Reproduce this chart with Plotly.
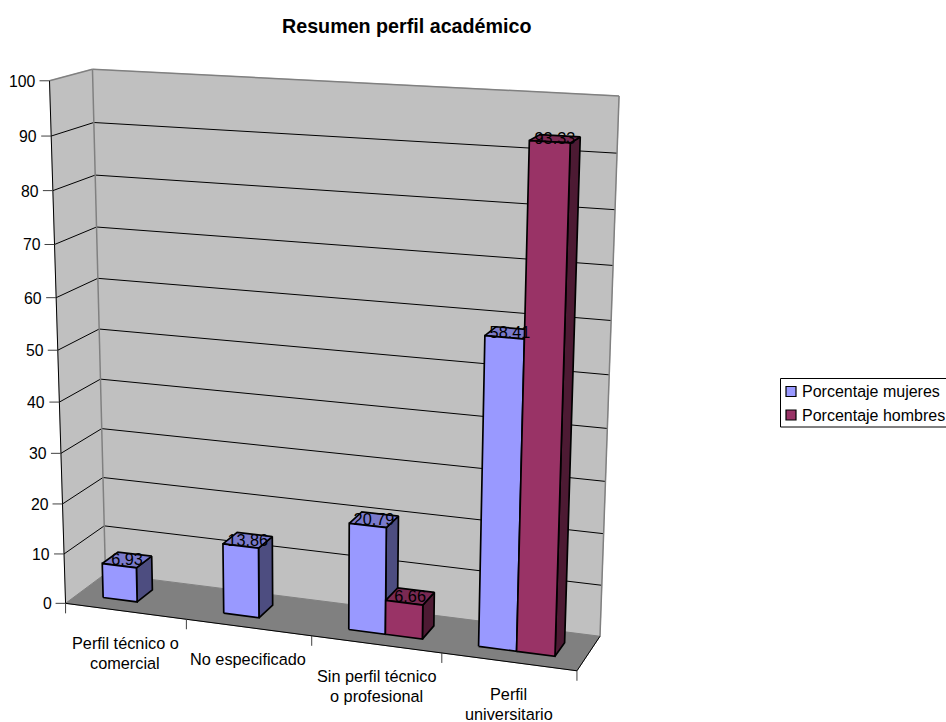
import numpy as np
import plotly.graph_objects as go

# Chart data
categories = [["Perfil técnico o", "comercial"], ["No especificado"],
              ["Sin perfil técnico", "o profesional"], ["Perfil", "universitario"]]
women = [6.93, 13.86, 20.79, 58.41]
men = [None, None, 6.66, 93.33]
series_names = ["Porcentaje mujeres", "Porcentaje hombres"]
value_ticks = list(range(0, 101, 10))

# Face colours per series: front, side, top
women_faces = ("#9999FF", "#4D4D80", "#7A7ACC")
men_faces = ("#993366", "#4D1A33", "#7A2952")
WALL = "#C0C0C0"
FLOOR = "#808080"
EDGE = "#808080"
FONT = "Liberation Sans, Arial, sans-serif"
TEXT_SIZE = 16.3
LINE_STEP = 20
W, H = 946, 722

# Bar layout inside the box: gap width 150 % and gap depth 150 %
BAR = 1 / 3.5
GAP = 0.75 * BAR
Z0, Z1 = 0.30, 0.70

# Perspective camera fitted to the corners of the plot box (category, value, depth -> px)
camera_fit = [
    ((0, 0, 0), (66, 602)), ((0, 100, 0), (49, 81)),
    ((0, 0, 1), (105, 575)), ((0, 100, 1), (93, 69)),
    ((4, 100, 1), (619, 96)), ((4, 0, 1), (600, 635)),
    ((4, 0, 0), (577, 672)),
]
A, b = [], []
for (x, y, z), (u, v) in camera_fit:
    A.append([x, y, z, 1, 0, 0, 0, 0, -u * x, -u * y, -u * z])
    A.append([0, 0, 0, 0, x, y, z, 1, -v * x, -v * y, -v * z])
    b += [u, v]
cam = np.append(np.linalg.lstsq(np.array(A, float), np.array(b, float), rcond=None)[0], 1).reshape(3, 4)


def project(x, y, z):
    p = cam @ np.array([x, y, z, 1.0])
    return p[0] / p[2], p[1] / p[2]


fig = go.Figure()


def polygon(corners, fill, line=None, width=1.0):
    pts = [project(*c) for c in corners]
    pts.append(pts[0])
    fig.add_trace(go.Scatter(
        x=[p[0] for p in pts], y=[p[1] for p in pts], mode="lines", fill="toself",
        fillcolor=fill, line=dict(color=line or fill, width=width),
        hoverinfo="skip", showlegend=False))


def segment(a, b, color="#000000", width=1.0, offset=(0, 0)):
    pa, pb = project(*a), project(*b)
    fig.add_trace(go.Scatter(
        x=[pa[0], pb[0] + offset[0]], y=[pa[1], pb[1] + offset[1]], mode="lines",
        line=dict(color=color, width=width), hoverinfo="skip", showlegend=False))


# Walls and floor
polygon([(0, 0, 0), (0, 100, 0), (0, 100, 1), (0, 0, 1)], WALL)
polygon([(0, 0, 1), (0, 100, 1), (4, 100, 1), (4, 0, 1)], WALL)
polygon([(0, 0, 0), (0, 0, 1), (4, 0, 1), (4, 0, 0)], FLOOR)

# Gridlines on both walls
for v in value_ticks[1:-1]:
    segment((0, v, 0), (0, v, 1))
    segment((0, v, 1), (4, v, 1))

# Wall outlines
segment((0, 100, 0), (0, 100, 1), EDGE, 1.5)
segment((0, 100, 1), (4, 100, 1), EDGE, 1.5)
segment((0, 0, 1), (0, 100, 1), EDGE, 1.5)
segment((4, 0, 1), (4, 100, 1), EDGE, 1.5)

# Axis lines and tick marks
segment((0, 0, 0), (0, 100, 0))
segment((0, 0, 0), (4, 0, 0))
segment((4, 0, 0), (4, 0, 1))
for i in range(5):
    segment((i, 0, 0), (i, 0, 0), "#404040", 1.0, offset=(0, 10))
for v in value_ticks:
    segment((0, v, 0), (0, v, 0), "#404040", 1.0, offset=(-10, 0))


def bar(x0, x1, value, faces):
    front, side, top = faces
    polygon([(x1, 0, Z0), (x1, 0, Z1), (x1, value, Z1), (x1, value, Z0)], side, "#000000", 1.7)
    polygon([(x0, value, Z0), (x1, value, Z0), (x1, value, Z1), (x0, value, Z1)], top, "#000000", 1.7)
    polygon([(x0, 0, Z0), (x1, 0, Z0), (x1, value, Z0), (x0, value, Z0)], front, "#000000", 1.7)


# Bars, left to right so nearer faces cover farther ones
label_pts = []
for i in range(len(categories)):
    for j, (vals, faces) in enumerate(((women, women_faces), (men, men_faces))):
        if vals[i] is None:
            continue
        x0 = i + GAP + j * BAR
        bar(x0, x0 + BAR, vals[i], faces)
        label_pts.append((project(x0 + BAR / 2, vals[i], (Z0 + Z1) / 2), f"{vals[i]:g}"))

# Data labels centred on the top face of each bar
fig.add_trace(go.Scatter(
    x=[p[0][0] for p in label_pts], y=[p[0][1] + 1.5 for p in label_pts], text=[p[1] for p in label_pts],
    mode="text", textposition="middle center", textfont=dict(family=FONT, size=TEXT_SIZE, color="#000000"),
    hoverinfo="skip", showlegend=False))

# Value axis labels
tick_px = [project(0, v, 0) for v in value_ticks]
annotations = [dict(x=p[0] - 12, y=p[1] + 0.5, text=str(v), xanchor="right", yanchor="middle",
                    showarrow=False, xref="x", yref="y", font=dict(family=FONT, size=15.8, color="#000000"))
               for p, v in zip(tick_px, value_ticks)]

# Category labels hang below the front edge, one annotation per line
for i, lines in enumerate(categories):
    px = project(i + 0.5, 0, 0)
    for k, line in enumerate(lines):
        annotations.append(dict(x=px[0], y=px[1] + 32 + k * LINE_STEP, text=line,
                                xanchor="center", yanchor="middle",
                                showarrow=False, xref="x", yref="y",
                                font=dict(family=FONT, size=TEXT_SIZE, color="#000000")))

# Title
annotations.append(dict(x=406, y=25.5, text="<b>Resumen perfil académico</b>", xanchor="center", yanchor="middle",
                        showarrow=False, xref="x", yref="y", font=dict(family=FONT, size=19.7, color="#000000")))

# Legend
legend_y = (391.5, 415)
fig.add_shape(type="rect", x0=780.5, x1=960, y0=378.5, y1=427, xref="x", yref="y",
              line=dict(color="#000000", width=1), fillcolor="rgba(0,0,0,0)", layer="above")
for name, faces, y in zip(series_names, (women_faces, men_faces), legend_y):
    fig.add_trace(go.Scatter(x=[791], y=[y], mode="markers", hoverinfo="skip", showlegend=False,
                             marker=dict(symbol="square", size=10, color=faces[0],
                                         line=dict(color="#000000", width=1.2))))
    annotations.append(dict(x=799.5, y=y, text=name, xanchor="left", yanchor="middle", showarrow=False,
                            xref="x", yref="y", font=dict(family=FONT, size=16, color="#000000")))

fig.update_layout(
    width=W, height=H, autosize=False, margin=dict(l=0, r=0, t=0, b=0),
    paper_bgcolor="#FFFFFF", plot_bgcolor="#FFFFFF", showlegend=False,
    xaxis=dict(range=[0, W], visible=False, fixedrange=True),
    yaxis=dict(range=[H, 0], visible=False, fixedrange=True),
    annotations=annotations,
)

fig.write_html("out.html", config={"displayModeBar": False})
